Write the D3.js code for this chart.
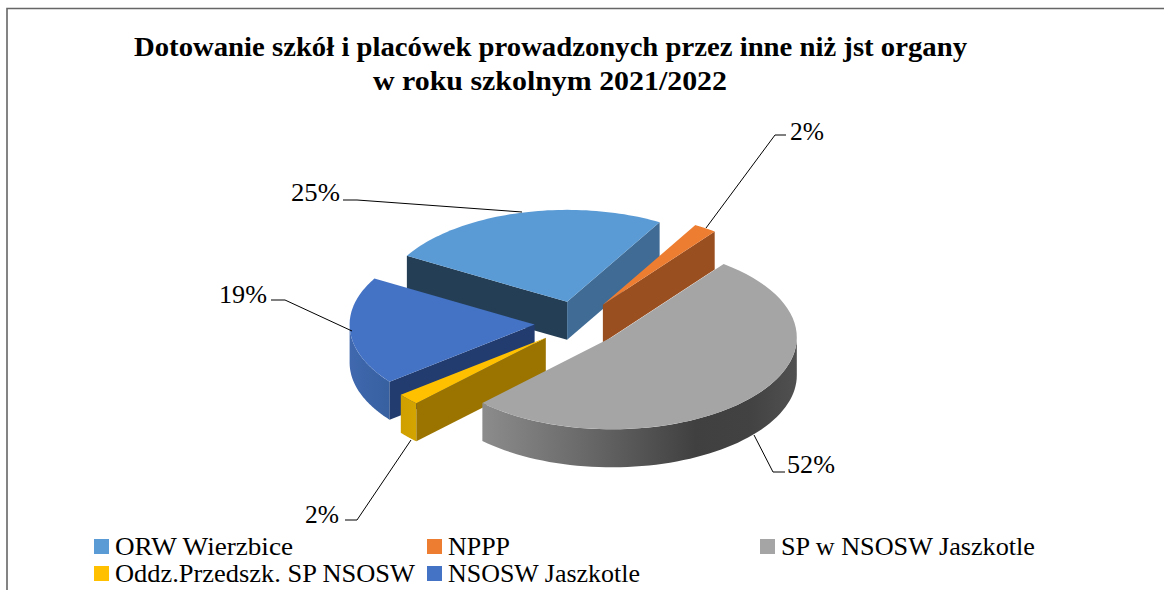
<!DOCTYPE html>
<html><head><meta charset="utf-8">
<style>html,body{margin:0;padding:0;background:#fff}svg{display:block}</style>
<script src="https://cdn.jsdelivr.net/npm/d3@7"></script></head>
<body><svg id="c" width="1164" height="590"></svg>
<script>
const titleLines = ["Dotowanie szkół i placówek prowadzonych przez inne niż jst organy", "w roku szkolnym 2021/2022"];
const categories = ["ORW Wierzbice", "NPPP", "SP w NSOSW Jaszkotle", "Oddz.Przedszk. SP NSOSW", "NSOSW Jaszkotle"];
const values = [25, 2, 52, 2, 19];
const topColors = ["#5b9bd5", "#ed7d31", "#a5a5a5", "#ffc000", "#4472c4"];
const edgeStartColors = ["#243e55", null, null, "#9b7400", "#223c70"];
const edgeEndColors = ["#3f6b94", "#9a4f20", null, null, null];
const drawOrder = [0, 1, 4, 3, 2];

const svg = d3.select("#c");
const cx = 578.5, cy = 323, rx = 185, ry = 92, depth = 38, explode = 44;
const deg = Math.PI / 180;

// Frame
svg.append("path").attr("d", "M7,590V8.5H1164").attr("fill", "none").attr("stroke", "#666").attr("stroke-width", 1.6);

// Gradients for outer walls
const defs = svg.append("defs");
function grad(id, x1, x2, stops) {
  const g = defs.append("linearGradient").attr("id", id).attr("gradientUnits", "userSpaceOnUse")
    .attr("x1", x1).attr("x2", x2).attr("y1", 0).attr("y2", 0);
  stops.forEach(s => g.append("stop").attr("offset", s[0]).attr("stop-color", s[1]));
}
grad("wall2", 482, 796, [[0, "#8c8c8c"], [0.3, "#6c6c6c"], [0.68, "#404040"], [0.85, "#424242"], [1, "#505050"]]);
grad("wall3", 402, 418, [[0, "#d0a000"], [1, "#d4a400"]]);
grad("wall4", 351, 391, [[0, "#3f68ae"], [1, "#36609f"]]);
const wallFill = [null, null, "url(#wall2)", "url(#wall3)", "url(#wall4)"];

const pie = d3.pie().sort(null).startAngle(300 * deg).endAngle(660 * deg);
const arcs = pie(values);
const line = d3.line();

function geom(a) {
  const mid = (a.startAngle + a.endAngle) / 2;
  const ox = cx + explode * Math.sin(mid);
  const oy = cy - explode * (ry / rx) * Math.cos(mid);
  const at = t => [ox + rx * Math.sin(t), oy - ry * Math.cos(t)];
  const rim = (s, e) => d3.range(0, 61).map(i => at(s + (e - s) * i / 60));
  return { apex: [ox, oy], at, rim };
}
const down = p => [p[0], p[1] + depth];

const g = svg.append("g");
drawOrder.forEach(i => {
  const a = arcs[i], G = geom(a);
  const s = a.startAngle, e = a.endAngle;
  // Outer wall: only the part of the rim facing the viewer (90deg to 270deg from top)
  const norm = t => { let x = t % (2 * Math.PI); return x < 0 ? x + 2 * Math.PI : x; };
  const ws = Math.max(norm(s), 90 * deg), we = Math.min(norm(s) + (e - s), 270 * deg);
  if (we > ws && wallFill[i]) {
    const top = G.rim(ws, we);
    const pts = top.concat(top.slice().reverse().map(down));
    g.append("path").attr("d", line(pts) + "Z").attr("fill", wallFill[i]);
  }
  // Radial walls
  if (edgeStartColors[i]) {
    const p = G.at(s);
    g.append("path").attr("d", line([G.apex, p, down(p), down(G.apex)]) + "Z").attr("fill", edgeStartColors[i]);
  }
  if (edgeEndColors[i]) {
    const p = G.at(e);
    g.append("path").attr("d", line([G.apex, p, down(p), down(G.apex)]) + "Z").attr("fill", edgeEndColors[i]);
  }
  // Top face
  g.append("path").attr("d", line([G.apex].concat(G.rim(s, e))) + "Z").attr("fill", topColors[i]);
});

// Title
const serif = "'Liberation Serif','DejaVu Serif',serif";
const titleWidths = [833, 354], titleY = [56, 90], titleX = [134, 373];
titleLines.forEach((t, i) => {
  svg.append("text").text(t).attr("x", titleX[i]).attr("y", titleY[i])
    .attr("font-family", serif).attr("font-weight", "bold").attr("font-size", 27).attr("fill", "#000")
    .attr("textLength", titleWidths[i]).attr("lengthAdjust", "spacingAndGlyphs");
});

// Data labels + leaders
const labelText = values.map(v => v + "%");
const labelX = [291, 790, 787, 305, 219], labelY = [201, 140, 473, 523, 303];
const labelW = [49, 34, 48, 34, 48];
const leaders = [
  [[343, 200], [357, 200], [522, 212]],
  [[786, 135], [775, 135], [706, 228]],
  [[785, 472], [773, 472], [754, 435]],
  [[345, 520], [357, 520], [411, 440]],
  [[271, 300], [285, 300], [352, 331]]
];
leaders.forEach(l => svg.append("path").attr("d", line(l)).attr("fill", "none").attr("stroke", "#000").attr("stroke-width", 1));
labelText.forEach((t, i) => {
  svg.append("text").text(t).attr("x", labelX[i]).attr("y", labelY[i])
    .attr("font-family", serif).attr("font-size", 26).attr("fill", "#000")
    .attr("textLength", labelW[i]).attr("lengthAdjust", "spacingAndGlyphs");
});

// Legend
const legendSwatchX = [94, 427, 760, 94, 427], legendSwatchY = [539, 539, 539, 566, 566];
const legendW = [178, 62, 254, 300, 192];
categories.forEach((c, i) => {
  svg.append("rect").attr("x", legendSwatchX[i]).attr("y", legendSwatchY[i]).attr("width", 15).attr("height", 15).attr("fill", topColors[i]);
  svg.append("text").text(c).attr("x", legendSwatchX[i] + 21).attr("y", legendSwatchY[i] + 16)
    .attr("font-family", serif).attr("font-size", 26).attr("fill", "#000")
    .attr("textLength", legendW[i]).attr("lengthAdjust", "spacingAndGlyphs");
});
</script></body></html>
